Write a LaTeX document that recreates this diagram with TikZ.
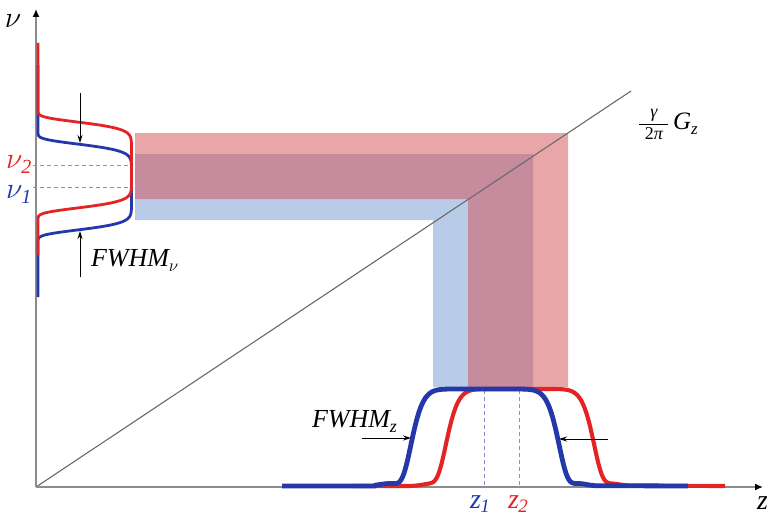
\documentclass[tikz,border=0pt]{standalone}
\usepackage{graphicx}
\usepackage{fontspec}
\setmainfont{Liberation Serif}
\usetikzlibrary{arrows.meta}
\definecolor{redc}{RGB}{228,36,36}
\definecolor{bluec}{RGB}{36,56,170}
\definecolor{redfill}{RGB}{232,166,168}
\definecolor{bluefill}{RGB}{185,204,231}
\definecolor{purfill}{RGB}{199,139,158}
\definecolor{axisc}{RGB}{140,140,140}
\definecolor{diagc}{RGB}{105,105,105}
\definecolor{reddash}{RGB}{238,110,110}
\definecolor{bluedash}{RGB}{135,140,210}
\newcommand{\bignu}{\scalebox{1.2}{\fontsize{24.88}{26}\selectfont$\nu$}}
\newcommand{\subtxt}[1]{\raisebox{-5pt}{\fontsize{20}{20}\selectfont\itshape #1}}
\tikzset{
  axisline/.style={axisc, line width=1.4pt, -{Latex[length=8pt,width=7pt,black]}},
  diagline/.style={diagc, line width=1.1pt},
  leftcurve/.style={line width=2.8pt, line join=round},
  botcurve/.style={line width=4.5pt, line join=round},
  dashln/.style={line width=1pt, dash pattern=on 4pt off 3pt},
  fwhmarrow/.style={black, line width=0.9pt, -{Stealth[length=8pt,width=5pt]}},
  lbl/.style={inner sep=0pt, outer sep=0pt},
}
\begin{document}
\begin{tikzpicture}[x=1pt,y=-1pt]
\useasboundingbox (0,0) rectangle (767,519);
% coloured bands
\fill[redfill] (135,133) -- (568,133) -- (568,387) -- (468,387) -- (468,199) -- (135,199) -- cycle;
\fill[bluefill] (135,154) -- (533,154) -- (533,387) -- (433,387) -- (433,220) -- (135,220) -- cycle;
\fill[purfill] (135,154) -- (533,154) -- (533,387) -- (468,387) -- (468,199) -- (135,199) -- cycle;
% axes
\coordinate (O) at (36,487);
\coordinate (nutop) at (36,9);
\coordinate (zend) at (763,487);
\coordinate (dend) at (631,91);
\draw[diagline] (O) -- (dend);
\draw[axisline] (O) -- (nutop);
\draw[axisline] (O) -- (zend);
% dashed guide lines
\draw[dashln, reddash] (33,165) -- (131,165);
\draw[dashln, bluedash] (33,187) -- (131,187);
\draw[dashln, bluedash] (484,390) -- (484,487);
\draw[dashln, reddash] (519,390) -- (519,487);
% left spectral profiles
\draw[leftcurve, bluec] (38,65) -- (38,127)
  -- plot[domain=127:247, samples=161] ({38+93.5*exp(0-(((\x-187)/43.6)^2)^5)},\x)
  -- (38,297);
\draw[leftcurve, redc] (38,43) -- (38,105)
  -- plot[domain=105:225, samples=161] ({38+93.5*exp(0-(((\x-165)/43.6)^2)^5)},\x)
  -- (38,255);
% bottom spatial profiles
\draw[botcurve, redc, line width=4.1pt] (353,486) -- (410,486)
  -- plot[domain=410:630, samples=161] (\x,{486-97*exp(0-(((\x-520)/75.2)^2)^5)-2.5*exp(0-((\x-432)/12)^2)-2.5*exp(0-((\x-610)/14)^2)})
  -- (725,486);
\draw[botcurve, bluec, line width=4.8pt] (282,486) -- (375,486)
  -- plot[domain=375:595, samples=161] (\x,{486-97*exp(0-(((\x-485)/75.2)^2)^5)-2.5*exp(0-((\x-390)/14)^2)-2.5*exp(0-((\x-578)/12)^2)})
  -- (688,486);
% FWHM arrows
\coordinate (fa1) at (80,93);  \coordinate (fb1) at (80,143);
\coordinate (fa2) at (80,277); \coordinate (fb2) at (80,231);
\coordinate (fa3) at (362,438); \coordinate (fb3) at (411,438);
\coordinate (fa4) at (608,439); \coordinate (fb4) at (559,439);
\draw[fwhmarrow] (fa1) -- (fb1);
\draw[fwhmarrow] (fa2) -- (fb2);
\draw[fwhmarrow] (fa3) -- (fb3);
\draw[fwhmarrow] (fa4) -- (fb4);
% labels
\node[lbl, anchor=base west] (nulab) at (5,28) {\bignu};
\node[lbl, redc, anchor=base west] (nu2) at (6,168) {\bignu\kern-1pt\subtxt{2}};
\node[lbl, bluec, anchor=base west] (nu1) at (6,198) {\bignu\kern-1pt\subtxt{1}};
\node[lbl, anchor=base west] (fwhmnu) at (91,266) {\fontsize{26}{26}\selectfont\itshape FWHM\raisebox{-5pt}{\fontsize{17.28}{18}\selectfont$\nu$}};
\node[lbl, anchor=base west] (fwhmz) at (312,427) {\fontsize{26}{26}\selectfont\itshape FWHM\raisebox{-5pt}{\fontsize{18}{18}\selectfont z}};
\node[lbl, bluec, anchor=base west] (z1) at (470,508) {{\fontsize{28}{28}\selectfont\itshape z}\kern-0.5pt\raisebox{-4pt}{\fontsize{19}{19}\selectfont\itshape 1}};
\node[lbl, redc, anchor=base west] (z2) at (508,508) {{\fontsize{28}{28}\selectfont\itshape z}\kern-0.5pt\raisebox{-4pt}{\fontsize{19}{19}\selectfont\itshape 2}};
\node[lbl, anchor=base west] (zlab) at (757,509) {\fontsize{28}{28}\selectfont\itshape z};
% gradient label
\node[lbl] (gnum) at (654,115) {\fontsize{18}{18}\selectfont\itshape γ};
\node[lbl] (gden) at (654,134) {\fontsize{18}{18}\selectfont 2\textit{π}};
\coordinate (barl) at (639,124); \coordinate (barr) at (668,124);
\draw[line width=0.8pt] (barl) -- (barr);
\node[lbl, anchor=west] (gz) at (673,124) {\fontsize{25}{25}\selectfont\itshape G\raisebox{-5pt}{\fontsize{17}{17}\selectfont z}};
\end{tikzpicture}
\end{document}
